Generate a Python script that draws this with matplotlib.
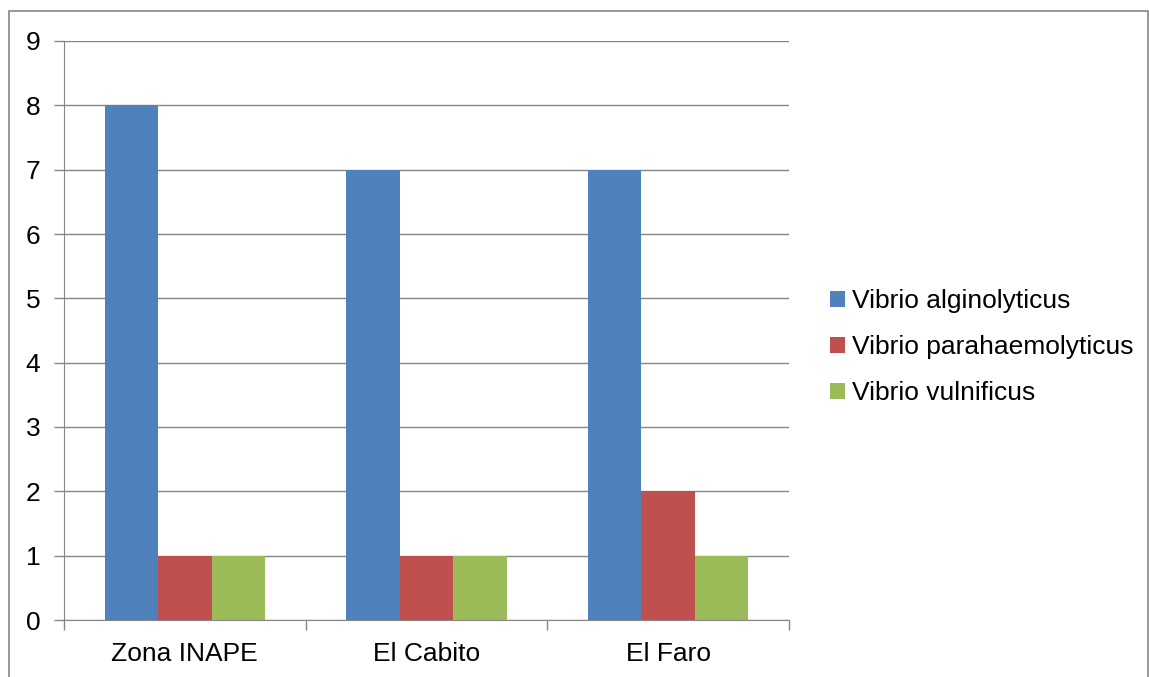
import matplotlib
matplotlib.use("Agg")
import matplotlib.pyplot as plt
from matplotlib.patches import Rectangle
import numpy as np

plt.rcParams['font.family'] = ['Liberation Sans', 'DejaVu Sans']

categories = ["Zona INAPE", "El Cabito", "El Faro"]
series_names = ["Vibrio alginolyticus", "Vibrio parahaemolyticus", "Vibrio vulnificus"]
alginolyticus = [8, 7, 7]
parahaemolyticus = [1, 1, 2]
vulnificus = [1, 1, 1]
series_values = [alginolyticus, parahaemolyticus, vulnificus]
colors = ["#4F81BD", "#C0504D", "#9BBB59"]
y_ticks = list(range(0, 10))

fig = plt.figure(figsize=(11.49, 6.77), dpi=100)
ax = fig.add_axes([64/1149, 1-620/677, (789-64)/1149, (620-41)/677])

x = np.arange(len(categories))
w = 0.221
for i, (name, vals, c) in enumerate(zip(series_names, series_values, colors)):
    ax.bar(x + (i-1)*w, vals, width=w, color=c, label=name, zorder=3, linewidth=0)

fs = 19
ax.set_xlim(-0.5, len(categories)-0.5)
ax.set_ylim(0, 9)
ax.set_yticks(y_ticks)
ax.set_yticklabels([str(t) for t in y_ticks], fontsize=fs)
ax.set_xticks(x)
ax.set_xticklabels(categories, fontsize=fs)
ax.tick_params(axis='x', length=0, pad=16)
ax.tick_params(axis='y', length=7, color='#868686', width=1, pad=10)
ax.set_xticks(np.arange(-0.5, len(categories), 1.0), minor=True)
ax.tick_params(axis='x', which='minor', length=7, color='#868686', width=1, direction='out')
ax.grid(axis='y', color='#868686', linewidth=1, zorder=0)
for s in ['top', 'right']:
    ax.spines[s].set_visible(False)
ax.spines['left'].set_color('#868686')
ax.spines['bottom'].set_color('#868686')

leg = fig.legend(loc='center left', bbox_to_anchor=(830/1149, 1-347/677), frameon=False,
                 fontsize=fs, handlelength=0.55, handleheight=0.55, handletextpad=0.3,
                 labelspacing=0.83, borderpad=0, borderaxespad=0)

fig.patches.append(Rectangle((9/1149, -0.05), (1148-9)/1149, 1.05-11/677,
                             transform=fig.transFigure, fill=False, edgecolor='#868686',
                             linewidth=1.2))

fig.savefig("out.png", dpi=100, facecolor='white')
